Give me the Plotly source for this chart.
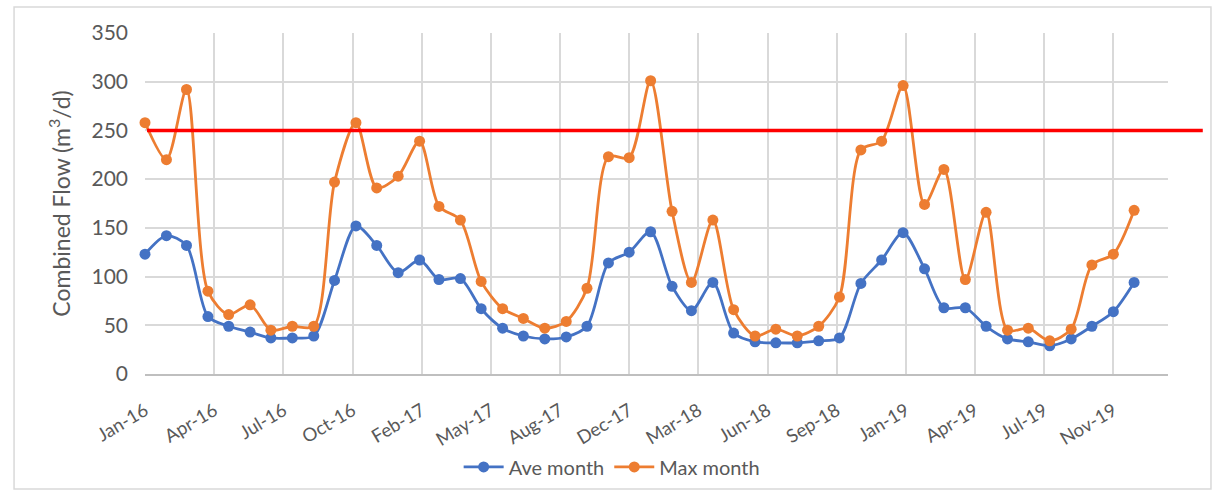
import pandas as pd
import plotly.graph_objects as go

# Monthly combined flow, Jan 2016 - Dec 2019 (m3/d)
months = pd.date_range("2016-01-01", periods=48, freq="MS")

ave_month = [
    123, 142, 132, 59, 49, 43, 37, 37, 39, 96, 152, 132,
    104, 117, 97, 98, 67, 47, 39, 36, 38, 49, 114, 125,
    146, 90, 65, 94, 42, 33, 32, 32, 34, 37, 93, 117,
    145, 108, 68, 68, 49, 36, 33, 29, 36, 49, 64, 94,
]
max_month = [
    258, 220, 292, 85, 61, 71, 45, 49, 49, 197, 258, 191,
    203, 239, 172, 158, 95, 67, 57, 47, 54, 88, 223, 222,
    301, 167, 94, 158, 66, 39, 46, 39, 49, 79, 230, 239,
    296, 174, 210, 97, 166, 45, 47, 34, 46, 112, 123, 168,
]
threshold = 250

BLUE = "#4472C4"
ORANGE = "#ED7D31"
TEXT = "#595959"
GRID = "#D9D9D9"
FONT = "Lato, 'Open Sans', sans-serif"

fig = go.Figure()
for name, vals, color in [("Ave month", ave_month, BLUE), ("Max month", max_month, ORANGE)]:
    fig.add_trace(go.Scatter(
        x=months, y=vals, name=name, mode="lines+markers",
        line=dict(color=color, width=2.8, shape="spline", smoothing=0.8),
        marker=dict(color=color, size=11),
        cliponaxis=False,
    ))

# Threshold line, running a little past the right edge of the plot area
fig.add_shape(type="line", xref="paper", yref="y",
              x0=0.002, x1=1.034, y0=threshold, y1=threshold,
              line=dict(color="#FF0000", width=3.5))

# Chart-area border
fig.add_shape(type="rect", xref="paper", yref="paper",
              x0=-0.128, x1=1.042, y0=-0.337, y1=1.076,
              line=dict(color="#D9D9D9", width=1.5), layer="below")

fig.update_layout(
    width=1217, height=492,
    margin=dict(l=145, r=49, t=33, b=118, autoexpand=False),
    paper_bgcolor="white", plot_bgcolor="white",
    font=dict(family=FONT, color=TEXT, size=20),
    showlegend=True,
    legend=dict(orientation="h", xref="container", yref="container",
                x=0.503, xanchor="center", y=0.051, yanchor="middle",
                bgcolor="rgba(0,0,0,0)",
                font=dict(size=20, color=TEXT), itemwidth=40),
)
fig.update_xaxes(
    type="date",
    range=["2016-01-01", "2020-01-19"],
    tick0="2016-01-01", dtick=100 * 86400000,
    tickformat="%b-%y", tickangle=-31,
    showgrid=True, gridcolor=GRID, gridwidth=1.5,
    showline=True, linecolor="#BFBFBF", linewidth=1.5,
    ticks="", tickfont=dict(size=18.5, color=TEXT),
    ticklabelstandoff=17, automargin=False,
    zeroline=False,
)
fig.update_yaxes(
    range=[0, 350], dtick=50,
    showgrid=True, gridcolor=GRID, gridwidth=1.5,
    zeroline=False, showline=False, ticks="",
    tickfont=dict(size=21, color=TEXT),
    ticklabelstandoff=16, automargin=False,
    title=dict(text="Combined Flow (m<sup>3</sup>/d)", font=dict(size=23, color=TEXT), standoff=14),
)

fig.write_html("out.html")
